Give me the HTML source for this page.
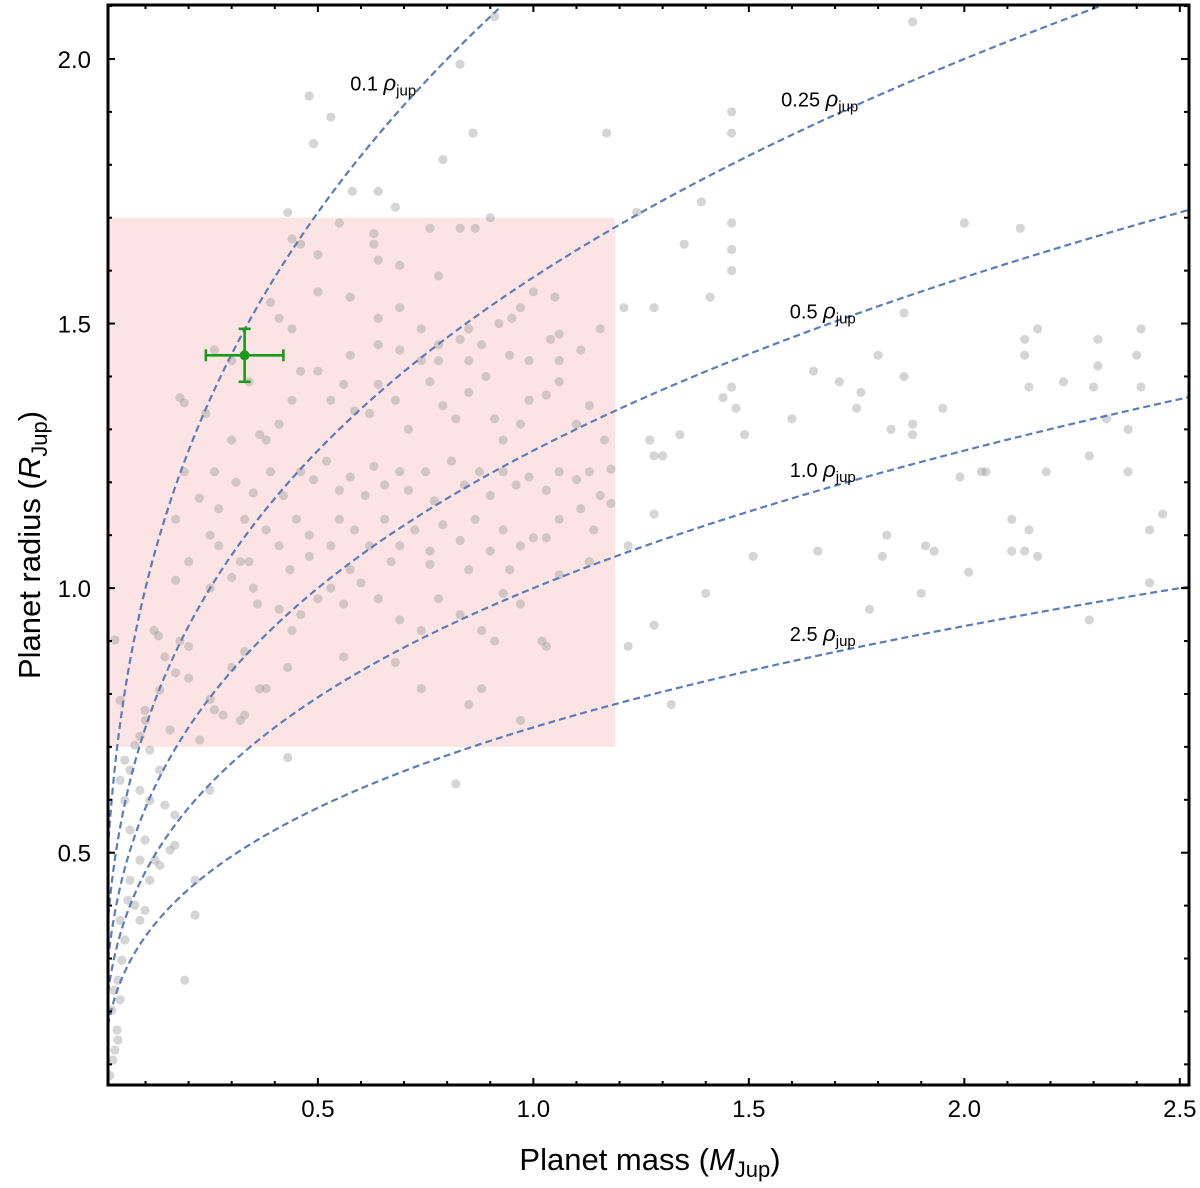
<!DOCTYPE html>
<html><head><meta charset="utf-8"><style>
html,body{margin:0;padding:0;background:#fff;}
svg{display:block;font-family:"Liberation Sans",sans-serif;}
</style></head><body>
<svg id="chart" width="1200" height="1188" viewBox="0 0 1200 1188" xmlns="http://www.w3.org/2000/svg">
<defs><clipPath id="plotclip"><rect x="108" y="5" width="1080" height="1080"/></clipPath></defs>
<g id="content" clip-path="url(#plotclip)"></g>
<g id="axes"></g>
</svg>
<script>
const xTicks=[0.5,1.0,1.5,2.0,2.5];
const xTickLabels=["0.5","1.0","1.5","2.0","2.5"];
const yTicks=[0.5,1.0,1.5,2.0];
const yTickLabels=["0.5","1.0","1.5","2.0"];
const densities=[0.1,0.25,0.5,1.0,2.5];
const densityLabels=["0.1","0.25","0.5","1.0","2.5"];
const labelMass=[0.575,1.575,1.595,1.595,1.595];
const labelRadius=[1.94,1.91,1.51,1.21,0.90];
const regionMass=[0.0,1.19];
const regionRadius=[0.7,1.7];
const targetMass=0.33, targetMassErr=0.09, targetRadius=1.44, targetRadiusErr=0.05;
const pmass=[0.91,1.88,0.83,0.48,1.46,0.53,0.86,1.17,1.46,0.79,0.49,0.64,0.58,0.68,0.43,1.39,1.24,1.46,2.0,2.13,1.35,1.46,1.46,1.41,1.21,1.28,1.86,2.17,2.41,2.14,2.31,1.80,2.14,2.40,2.31,1.65,1.71,2.15,2.23,2.30,2.41,1.86,1.46,1.76,1.44,1.75,1.95,1.47,2.33,1.60,1.83,1.88,1.88,2.38,1.49,1.27,1.34,1.28,1.30,2.29,2.04,2.05,2.19,2.38,1.99,1.28,1.22,2.46,2.43,2.11,2.15,1.82,1.91,1.93,2.11,2.14,2.17,1.81,1.66,1.51,2.01,2.43,1.40,1.78,1.90,1.28,2.29,1.22,1.32,0.82,0.43,
0.017,0.029,0.034,0.041,0.036,0.045,0.052,0.041,0.059,0.064,0.075,0.087,0.099,0.110,0.122,0.133,0.157,0.168,0.087,0.099,0.064,0.052,0.041,0.064,0.087,0.110,0.145,0.168,0.215,0.191,0.215,0.041,0.052,0.099,0.133,0.249,0.226,0.029,0.133,0.110,0.075,0.157,0.022,0.024,0.036,0.027,
0.12,0.13,0.18,0.20,0.145,0.17,0.20,0.25,0.26,0.28,0.32,0.33,0.087,0.10,0.365,0.38,0.43,0.30,0.33,0.44,
0.25,0.27,0.32,0.30,0.25,0.35,0.36,0.41,0.46,0.50,0.53,0.56,0.60,0.64,0.69,0.74,0.78,0.83,0.88,0.91,0.93,0.97,1.02,1.03,0.97,0.85,0.88,0.74,0.56,0.68,
0.44,0.46,0.55,0.63,0.63,0.64,0.76,0.83,0.865,0.90,0.50,0.69,0.78,1.0,1.05,0.39,0.41,0.44,0.50,0.575,0.64,0.69,0.74,0.78,0.83,0.85,0.88,0.92,0.95,0.97,1.04,1.06,1.11,1.155,
0.18,0.19,0.24,0.30,0.365,0.38,0.41,0.44,0.46,0.50,0.53,0.56,0.585,0.62,0.64,0.68,0.71,0.74,0.76,0.79,0.82,0.85,0.89,0.91,0.93,0.97,0.99,1.03,1.06,1.10,1.13,1.165,
0.26,0.31,0.35,0.39,0.42,0.46,0.49,0.52,0.55,0.575,0.61,0.63,0.655,0.69,0.71,0.75,0.77,0.81,0.84,0.875,0.90,0.93,0.96,0.99,1.03,1.06,1.10,1.13,1.155,1.18,
0.27,0.33,0.38,0.41,0.45,0.48,0.53,0.55,0.585,0.62,0.655,0.69,0.725,0.76,0.79,0.83,0.865,0.90,0.93,0.97,1.0,1.03,1.06,1.11,1.14,1.18,
0.34,0.435,0.48,0.575,0.67,0.76,0.85,0.945,1.06,1.13,
0.34,0.26,0.30,0.575,0.64,0.69,0.78,0.85,0.945,0.99,1.06,0.19,0.17,0.225,0.20,0.17];
const pradius=[2.08,2.07,1.99,1.93,1.90,1.89,1.86,1.86,1.86,1.81,1.84,1.75,1.75,1.72,1.71,1.73,1.71,1.69,1.69,1.68,1.65,1.64,1.60,1.55,1.53,1.53,1.52,1.49,1.49,1.47,1.47,1.44,1.44,1.44,1.42,1.41,1.39,1.38,1.39,1.38,1.38,1.40,1.38,1.37,1.36,1.34,1.34,1.34,1.32,1.32,1.30,1.31,1.29,1.30,1.29,1.28,1.29,1.25,1.25,1.25,1.22,1.22,1.22,1.22,1.21,1.14,1.08,1.14,1.11,1.13,1.11,1.10,1.08,1.07,1.07,1.07,1.06,1.06,1.07,1.06,1.03,1.01,0.99,0.96,0.99,0.93,0.94,0.89,0.78,0.63,0.68,
0.079,0.127,0.165,0.222,0.259,0.297,0.335,0.372,0.410,0.448,0.401,0.372,0.391,0.448,0.486,0.476,0.505,0.514,0.486,0.524,0.543,0.599,0.637,0.656,0.618,0.599,0.590,0.571,0.448,0.259,0.382,0.788,0.675,0.769,0.656,0.618,0.713,0.902,0.807,0.694,0.703,0.732,0.202,0.108,0.146,0.240,
0.92,0.91,0.90,0.89,0.87,0.84,0.83,0.79,0.77,0.76,0.75,0.76,0.72,0.75,0.81,0.81,0.85,0.85,0.88,0.92,
1.10,1.08,1.05,1.02,1.0,1.0,0.97,0.96,0.95,0.98,1.0,0.97,1.01,0.98,0.94,0.92,0.98,0.95,0.92,0.90,0.99,0.97,0.90,0.89,0.75,0.78,0.81,0.81,0.87,0.86,
1.66,1.65,1.69,1.67,1.65,1.62,1.68,1.68,1.68,1.70,1.63,1.61,1.59,1.56,1.55,1.54,1.51,1.49,1.56,1.55,1.51,1.53,1.49,1.46,1.47,1.49,1.46,1.50,1.51,1.53,1.47,1.48,1.45,1.49,
1.36,1.35,1.33,1.28,1.29,1.28,1.31,1.355,1.41,1.41,1.355,1.385,1.335,1.33,1.385,1.355,1.30,1.43,1.39,1.345,1.32,1.37,1.40,1.32,1.28,1.31,1.355,1.365,1.39,1.31,1.345,1.28,
1.22,1.20,1.18,1.22,1.175,1.22,1.205,1.24,1.185,1.21,1.175,1.23,1.195,1.22,1.185,1.22,1.165,1.24,1.195,1.22,1.175,1.22,1.195,1.21,1.185,1.22,1.205,1.22,1.175,1.225,
1.15,1.13,1.11,1.08,1.13,1.10,1.08,1.13,1.11,1.08,1.13,1.08,1.11,1.07,1.12,1.09,1.13,1.07,1.11,1.08,1.095,1.095,1.13,1.15,1.11,1.16,
1.05,1.035,1.06,1.035,1.05,1.045,1.035,1.035,1.025,1.05,
1.39,1.45,1.43,1.44,1.46,1.45,1.43,1.43,1.44,1.43,1.43,1.22,1.13,1.17,1.05,1.015];

const NS="http://www.w3.org/2000/svg";
const X0=108,X1=1188,Y0=5,Y1=1085;
const xmin=0.013,xmax=2.519,ymin=0.061,ymax=2.102;
function sx(m){return X0+(m-xmin)/(xmax-xmin)*(X1-X0);}
function sy(r){return Y1-(r-ymin)/(ymax-ymin)*(Y1-Y0);}
function mk(tag,attrs,parent){const e=document.createElementNS(NS,tag);for(const k in attrs)e.setAttribute(k,attrs[k]);parent.appendChild(e);return e;}
const content=document.getElementById('content');
const axes=document.getElementById('axes');

const reg=mk('rect',{x:sx(Math.max(regionMass[0],xmin)),y:sy(regionRadius[1]),width:sx(regionMass[1])-sx(Math.max(regionMass[0],xmin)),height:sy(regionRadius[0])-sy(regionRadius[1]),fill:'#fde4e4'},content);



const pg=mk('g',{},content);


for(let i=0;i<pmass.length;i++){
  const c=mk('circle',{cx:sx(pmass[i]),cy:sy(pradius[i]),r:4.6,fill:'rgb(150,150,150)','fill-opacity':0.4},pg);
  
  
}

densities.forEach((rho,k)=>{
  let d='';
  for(let j=0;j<=600;j++){
    const m=Math.pow(ymin*0.8,3)*rho*Math.pow((xmax*1.01)/(Math.pow(ymin*0.8,3)*rho),j/600);
    const r=Math.cbrt(m/rho);
    d+=(j?'L':'M')+sx(m).toFixed(2)+','+sy(r).toFixed(2);
  }
  const p=mk('path',{d:d,fill:'none',stroke:'#5a7dba','stroke-width':2.2,'stroke-dasharray':'7,4'},content);
  
  
  const t=mk('text',{x:sx(labelMass[k]),y:sy(labelRadius[k]),'font-size':20,fill:'#000'},axes);
  t.innerHTML=densityLabels[k]+' <tspan font-style="italic" font-size="22">ρ</tspan><tspan font-size="15" dy="5">jup</tspan>';
  
  
});

const tg=mk('g',{stroke:'#1a9a1a','stroke-width':2.6,fill:'none'},content);


const cx=sx(targetMass),cy=sy(targetRadius);
const xl=sx(targetMass-targetMassErr),xr=sx(targetMass+targetMassErr),yt=sy(targetRadius+targetRadiusErr),yb=sy(targetRadius-targetRadiusErr);
mk('line',{x1:xl,y1:cy,x2:xr,y2:cy},tg);mk('line',{x1:cx,y1:yt,x2:cx,y2:yb},tg);
mk('line',{x1:xl,y1:cy-6,x2:xl,y2:cy+6},tg);mk('line',{x1:xr,y1:cy-6,x2:xr,y2:cy+6},tg);
mk('line',{x1:cx-6,y1:yt,x2:cx+6,y2:yt},tg);mk('line',{x1:cx-6,y1:yb,x2:cx+6,y2:yb},tg);
mk('circle',{cx:cx,cy:cy,r:5,fill:'#1a9a1a',stroke:'none'},tg);

const fr=mk('rect',{x:X0,y:Y0,width:X1-X0+1,height:Y1-Y0,fill:'none',stroke:'#000','stroke-width':3},axes);


for(let v=0.1;v<xmax;v+=0.1){const maj=Math.abs(v*2-Math.round(v*2))<1e-6;const L=maj?7:4;
  mk('line',{x1:sx(v),y1:Y1,x2:sx(v),y2:Y1-L,stroke:'#000','stroke-width':2},axes);
  mk('line',{x1:sx(v),y1:Y0,x2:sx(v),y2:Y0+L,stroke:'#000','stroke-width':2},axes);}
for(let v=0.1;v<ymax;v+=0.1){const maj=Math.abs(v*2-Math.round(v*2))<1e-6;const L=maj?7:4;
  mk('line',{x1:X0,y1:sy(v),x2:X0+L,y2:sy(v),stroke:'#000','stroke-width':2},axes);
  mk('line',{x1:X1,y1:sy(v),x2:X1-L,y2:sy(v),stroke:'#000','stroke-width':2},axes);}
xTicks.forEach((v,i)=>{const t=mk('text',{x:sx(v),y:1117,'font-size':24,'text-anchor':'middle'},axes);t.textContent=xTickLabels[i];
  
  });
yTicks.forEach((v,i)=>{const t=mk('text',{x:91,y:sy(v)+9,'font-size':24,'text-anchor':'end'},axes);t.textContent=yTickLabels[i];
  
  });
const xt=mk('text',{x:650,y:1170,'font-size':31,'text-anchor':'middle'},axes);
xt.innerHTML='Planet mass (<tspan font-style="italic">M</tspan><tspan font-size="22" dy="7">Jup</tspan><tspan dy="-7">)</tspan>';


const yt2=mk('text',{x:0,y:0,'font-size':31,'text-anchor':'middle',transform:'translate(40,545) rotate(-90)'},axes);
yt2.innerHTML='Planet radius (<tspan font-style="italic">R</tspan><tspan font-size="22" dy="7">Jup</tspan><tspan dy="-7">)</tspan>';


</script>
</body></html>
